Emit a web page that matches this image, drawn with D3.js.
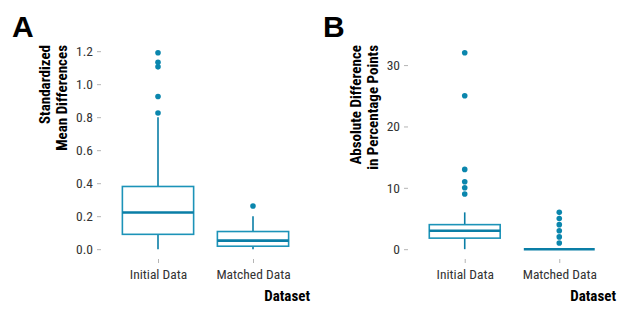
<!DOCTYPE html>
<html>
<head>
<meta charset="utf-8">
<script src="https://cdn.jsdelivr.net/npm/d3@7"></script>
<style>
  body { margin: 0; background: #fff; }
  svg text { font-family: "Liberation Sans Narrow", "Roboto Condensed", "Roboto", sans-serif; }
</style>
</head>
<body>
<div id="chart"></div>
<script>
// Box plot summaries
const categories = ['Initial Data', 'Matched Data'];

// Panel A: standardized mean differences
const smdQ1 = [0.09, 0.018];
const smdMedian = [0.222, 0.052];
const smdQ3 = [0.38, 0.107];
const smdLow = [0.0, 0.0];
const smdHigh = [0.80, 0.20];
const smdOutliers = [[0.825, 0.925, 1.105, 1.133, 1.19], [0.262]];
const smdTicks = [0.0, 0.2, 0.4, 0.6, 0.8, 1.0, 1.2];

// Panel B: absolute difference in percentage points
const pctQ1 = [1.8, 0];
const pctMedian = [3, 0];
const pctQ3 = [4, 0];
const pctLow = [0, 0];
const pctHigh = [6, 0];
const pctOutliers = [[9, 10, 11, 13, 25, 32], [1, 2, 3, 4, 5, 6]];
const pctTicks = [0, 10, 20, 30];

const W = 629, H = 315;
const BOX = '#1c93b8', MED = '#0a7ea6', PT = '#0a86ad';

const svg = d3.select('#chart').append('svg')
  .attr('width', W).attr('height', H);

function panel(opts) {
  const { left, right, top, bottom, label, title, q1, med, q3, lo, hi, out, ticks, fmt } = opts;
  const all = [].concat(lo, hi, ...out);
  const mn = d3.min(all), mx = d3.max(all), pad = (mx - mn) * 0.05;

  const x = d3.scalePoint().domain(categories).range([left, right]).padding(0.6);
  const y = d3.scaleLinear().domain([mn - pad, mx + pad]).range([bottom, top]);
  const bw = x.step() * 0.75;

  const g = svg.append('g');

  // y axis
  const ya = g.append('g').attr('transform', `translate(${left},0)`)
    .call(d3.axisLeft(y).tickValues(ticks).tickFormat(fmt).tickSize(4).tickPadding(4));
  ya.select('.domain').remove();
  ya.selectAll('line').attr('stroke', '#b5b5b5');
  ya.selectAll('text').attr('fill', '#333').style('font-size', '13.5px');

  // x axis
  const xa = g.append('g').attr('transform', `translate(0,${bottom})`)
    .call(d3.axisBottom(x).tickSize(4).tickPadding(6));
  xa.select('.domain').remove();
  xa.selectAll('line').attr('stroke', '#b5b5b5');
  xa.selectAll('text').attr('fill', '#333').style('font-size', '13.5px');

  categories.forEach((c, i) => {
    const cx = x(c);
    // whiskers
    g.append('line').attr('x1', cx).attr('x2', cx)
      .attr('y1', y(q3[i])).attr('y2', y(hi[i]))
      .attr('stroke', MED).attr('stroke-width', 1.6);
    g.append('line').attr('x1', cx).attr('x2', cx)
      .attr('y1', y(q1[i])).attr('y2', y(lo[i]))
      .attr('stroke', MED).attr('stroke-width', 1.6);
    // box
    g.append('rect')
      .attr('x', cx - bw / 2).attr('width', bw)
      .attr('y', y(q3[i])).attr('height', Math.max(0, y(q1[i]) - y(q3[i])))
      .attr('fill', '#fff').attr('stroke', BOX).attr('stroke-width', 1.6);
    // median
    g.append('line')
      .attr('x1', cx - bw / 2).attr('x2', cx + bw / 2)
      .attr('y1', y(med[i])).attr('y2', y(med[i]))
      .attr('stroke', MED).attr('stroke-width', 2.6);
    // outliers
    g.selectAll(null).data(out[i]).join('circle')
      .attr('cx', cx).attr('cy', d => y(d)).attr('r', 2.8)
      .attr('fill', PT);
  });

  // axis titles
  g.append('text').attr('x', right).attr('y', 301)
    .attr('text-anchor', 'end').style('font-size', '15px').style('font-weight', 'bold')
    .attr('fill', '#000').text('Dataset');

  title.forEach((t, k) => {
    g.append('text')
      .attr('transform', `translate(${opts.titleX + k * 17},45) rotate(-90)`)
      .attr('text-anchor', 'end')
      .style('font-size', '15px').style('font-weight', 'bold')
      .attr('fill', '#000').text(t);
  });

  // panel tag
  g.append('text').attr('x', opts.tagX).attr('y', 37)
    .style('font-family', '"Liberation Sans", Arial, sans-serif')
    .style('font-size', '30px').style('font-weight', 'bold')
    .attr('fill', '#000').text(label);
}

panel({
  left: 101, right: 310, top: 43, bottom: 259,
  label: 'A', tagX: 12, titleX: 50,
  title: ['Standardized', 'Mean Differences'],
  q1: smdQ1, med: smdMedian, q3: smdQ3, lo: smdLow, hi: smdHigh, out: smdOutliers,
  ticks: smdTicks, fmt: d3.format('.1f')
});

panel({
  left: 408, right: 616, top: 43, bottom: 259,
  label: 'B', tagX: 323, titleX: 361,
  title: ['Absolute Difference', 'in Percentage Points'],
  q1: pctQ1, med: pctMedian, q3: pctQ3, lo: pctLow, hi: pctHigh, out: pctOutliers,
  ticks: pctTicks, fmt: d3.format('d')
});
</script>
</body>
</html>
